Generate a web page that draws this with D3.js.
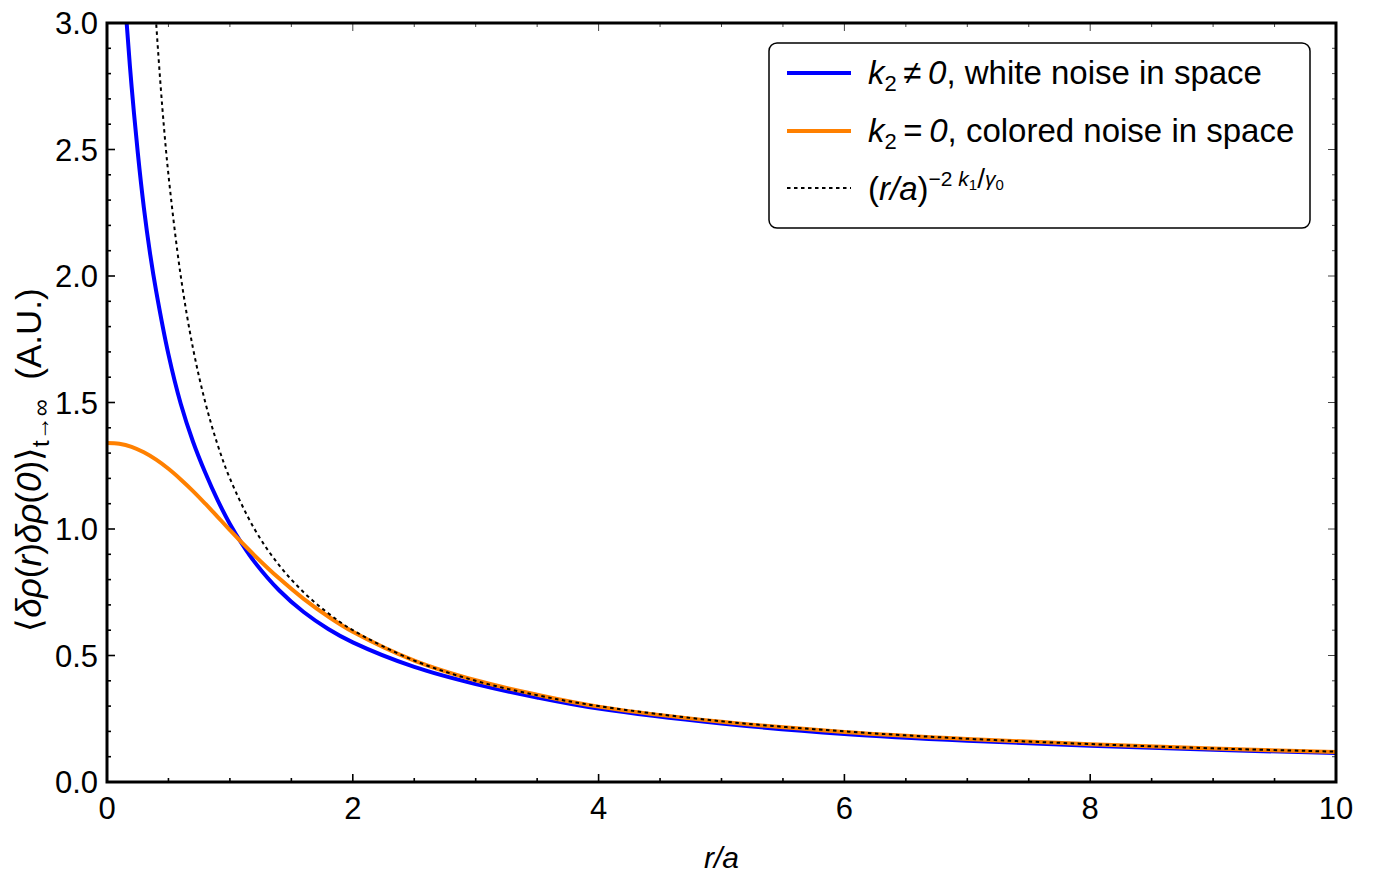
<!DOCTYPE html>
<html><head><meta charset="utf-8">
<script src="https://cdn.jsdelivr.net/npm/d3@7/dist/d3.min.js"></script>
<style>
html,body{margin:0;padding:0;background:#fff;}
text{font-family:"Liberation Sans",Arial,sans-serif;fill:#000;}
</style></head>
<body>
<svg id="chart" width="1375" height="878"></svg>
<script>
// ---- data ----
const blueR = [0.14,0.16,0.2,0.25,0.3,0.35,0.4,0.5,0.6,0.7,0.8,0.9,1.0,1.1,1.2,1.4,1.6,1.8,2.0,2.5,3.0,3.5,4.0,5,6,7,8,9,10];
const blueV = [3.15,3.0,2.75,2.49,2.27,2.09,1.94,1.69,1.495,1.345,1.222,1.114,1.02,0.94,0.87,0.758,0.672,0.605,0.552,0.455,0.387,0.334,0.29,0.231,0.19,0.163,0.143,0.127,0.115];
const orangeR = [0,0.1,0.2,0.3,0.4,0.5,0.6,0.7,0.8,0.9,1.0,1.1,1.2,1.4,1.6,1.8,2.0,2.5,3.0,3.5,4.0,5,6,7,8,9,10];
const orangeV = [1.34,1.337,1.325,1.303,1.274,1.238,1.196,1.15,1.10,1.048,0.996,0.945,0.896,0.805,0.724,0.654,0.594,0.48,0.402,0.345,0.298,0.238,0.198,0.17,0.149,0.132,0.119];
const dotR = [0.38,0.4,0.45,0.5,0.6,0.7,0.8,0.9,1.0,1.2,1.4,1.6,1.8,2.0,2.5,3,3.5,4,5,6,7,8,9,10];
const dotV = [3.16,3.0,2.667,2.4,2.0,1.714,1.5,1.333,1.2,1.0,0.857,0.75,0.667,0.6,0.48,0.4,0.343,0.3,0.24,0.2,0.171,0.15,0.133,0.12];
const xTicks = [0,2,4,6,8,10];
const xTickLabels = ["0","2","4","6","8","10"];
const yTicks = [0,0.5,1.0,1.5,2.0,2.5,3.0];
const yTickLabels = ["0.0","0.5","1.0","1.5","2.0","2.5","3.0"];
const xMinor = d3.range(0,10.001,0.5);
const yMinor = d3.range(0,3.001,0.1);

const svg = d3.select("#chart");
const L=107, R=1336, T=23, B=782;
const x = d3.scaleLinear().domain([0,10]).range([L,R]);
const y = d3.scaleLinear().domain([0,3]).range([B,T]);

svg.append("defs").append("clipPath").attr("id","clip")
  .append("rect").attr("x",L).attr("y",T).attr("width",R-L).attr("height",B-T);

// ticks
const tk = svg.append("g");
function isMajor(v, arr){return arr.some(a=>Math.abs(a-v)<1e-6);}
xMinor.forEach(v=>{
  const len = isMajor(v,xTicks)?8:4;
  tk.append("line").attr("x1",x(v)).attr("x2",x(v)).attr("y1",B).attr("y2",B-len).attr("stroke","#000").attr("stroke-width",1.6);
  tk.append("line").attr("x1",x(v)).attr("x2",x(v)).attr("y1",T).attr("y2",T+len).attr("stroke","#444").attr("stroke-width",1);
});
yMinor.forEach(v=>{
  const len = isMajor(v,yTicks)?8:4;
  tk.append("line").attr("y1",y(v)).attr("y2",y(v)).attr("x1",L).attr("x2",L+len).attr("stroke","#000").attr("stroke-width",1.6);
  tk.append("line").attr("y1",y(v)).attr("y2",y(v)).attr("x1",R).attr("x2",R-len).attr("stroke","#444").attr("stroke-width",1);
});

// tick labels
xTicks.forEach((v,i)=>{
  svg.append("text").attr("x",x(v)).attr("y",B+37).attr("text-anchor","middle")
    .attr("font-size",31).text(xTickLabels[i]);
});
yTicks.forEach((v,i)=>{
  svg.append("text").attr("x",L-9).attr("y",y(v)+11).attr("text-anchor","end")
    .attr("font-size",31).text(yTickLabels[i]);
});

// curves
const line = d3.line().x((d)=>x(d[0])).y(d=>y(d[1])).curve(d3.curveCatmullRom.alpha(0.5));
const g = svg.append("g").attr("clip-path","url(#clip)");
g.append("path").datum(blueR.map((r,i)=>[r,blueV[i]])).attr("d",line)
  .attr("fill","none").attr("stroke","#0000ff").attr("stroke-width",4);
g.append("path").datum(orangeR.map((r,i)=>[r,orangeV[i]])).attr("d",line)
  .attr("fill","none").attr("stroke","#ff8000").attr("stroke-width",4);
g.append("path").datum(dotR.map((r,i)=>[r,dotV[i]])).attr("d",line)
  .attr("fill","none").attr("stroke","#000").attr("stroke-width",2).attr("stroke-dasharray","3.5,3.5");

// frame
svg.append("rect").attr("x",L).attr("y",T).attr("width",R-L).attr("height",B-T)
  .attr("fill","none").attr("stroke","#000").attr("stroke-width",3);

// axis labels
svg.append("text").attr("x",(L+R)/2).attr("y",868).attr("text-anchor","middle")
  .attr("font-size",30).attr("font-style","italic").text("r/a");

const yl = svg.append("text").attr("transform","translate(41,460) rotate(-90)")
  .attr("text-anchor","middle").attr("font-size",35);
yl.append("tspan").text("⟨");
yl.append("tspan").attr("font-style","italic").text("δρ");
yl.append("tspan").text("(");
yl.append("tspan").attr("font-style","italic").text("r");
yl.append("tspan").text(")");
yl.append("tspan").attr("font-style","italic").text("δρ");
yl.append("tspan").text("(");
yl.append("tspan").attr("font-style","italic").text("0");
yl.append("tspan").text(")⟩");
yl.append("tspan").attr("font-size",24).attr("dy",8).text("t→∞");
yl.append("tspan").attr("dy",-8).text("\u00a0 (A.U.)");

// legend
const lg = svg.append("g");
lg.append("rect").attr("x",769).attr("y",43).attr("width",541).attr("height",185)
  .attr("rx",8).attr("fill","#fff").attr("stroke","#000").attr("stroke-width",1.5);
const entries = [
  {color:"#0000ff", w:4, dash:null, y:73},
  {color:"#ff8000", w:4, dash:null, y:131},
  {color:"#000", w:2, dash:"3.5,3.5", y:188}
];
entries.forEach(e=>{
  const l = lg.append("line").attr("x1",787).attr("x2",851).attr("y1",e.y).attr("y2",e.y)
    .attr("stroke",e.color).attr("stroke-width",e.w);
  if(e.dash) l.attr("stroke-dasharray",e.dash);
});
const t1 = lg.append("text").attr("x",868).attr("y",84).attr("font-size",33);
t1.append("tspan").attr("font-style","italic").text("k");
t1.append("tspan").attr("font-size",22).attr("dy",7).text("2");
t1.append("tspan").attr("dy",-7).text("\u2009≠\u2009");
t1.append("tspan").attr("font-style","italic").text("0");
t1.append("tspan").text(", white noise in space");
const t2 = lg.append("text").attr("x",868).attr("y",142).attr("font-size",33);
t2.append("tspan").attr("font-style","italic").text("k");
t2.append("tspan").attr("font-size",22).attr("dy",7).text("2");
t2.append("tspan").attr("dy",-7).text("\u2009=\u2009");
t2.append("tspan").attr("font-style","italic").text("0");
t2.append("tspan").text(", colored noise in space");
const t3 = lg.append("text").attr("x",868).attr("y",200).attr("font-size",33);
t3.append("tspan").text("(");
t3.append("tspan").attr("font-style","italic").text("r/a");
t3.append("tspan").text(")");
t3.append("tspan").attr("font-size",21).attr("dy",-14).text("−2 ");
t3.append("tspan").attr("font-size",21).attr("font-style","italic").text("k");
t3.append("tspan").attr("font-size",15).attr("dy",4).text("1");
t3.append("tspan").attr("font-size",28).attr("dy",-2).text("/");
t3.append("tspan").attr("font-size",21).attr("font-style","italic").attr("dy",-2).text("γ");
t3.append("tspan").attr("font-size",15).attr("dy",4).text("0");
</script>
</body></html>
